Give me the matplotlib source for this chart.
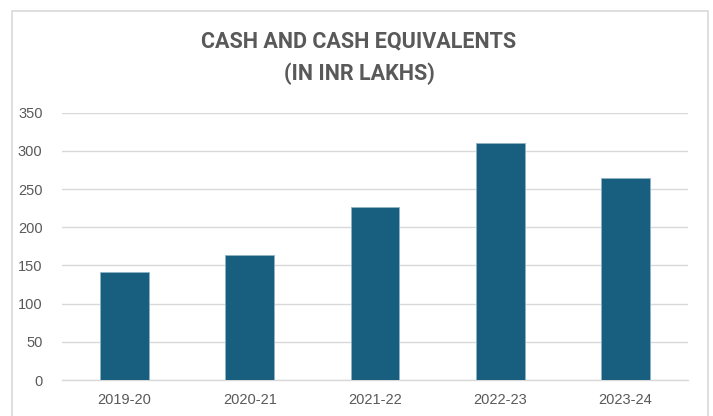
import matplotlib
matplotlib.use("Agg")
import matplotlib.pyplot as plt
from matplotlib.patches import Rectangle

categories = ["2019-20", "2020-21", "2021-22", "2022-23", "2023-24"]
values = [142, 164, 227, 310, 264]
yticks = [0, 50, 100, 150, 200, 250, 300, 350]
title = "CASH AND CASH EQUIVALENTS\n(IN INR LAKHS)"

W, H = 713, 416
fig = plt.figure(figsize=(W / 100, H / 100), dpi=100)
fig.patch.set_facecolor("white")

# outer chart border
fig.patches.append(Rectangle((12 / W, -0.05), (708 - 12) / W, 1.05 - 11 / H,
                             transform=fig.transFigure, fill=False,
                             edgecolor="#d9d9d9", linewidth=1.2))

ax = fig.add_axes([62 / W, 1 - 380 / H, (688 - 62) / W, (380 - 112.7) / H])
x = range(len(categories))
ax.bar(x, values, width=0.39, color="#175E7F", edgecolor="#8fb3c6", linewidth=0.6, zorder=3)
ax.set_xlim(-0.5, len(categories) - 0.5)
ax.set_ylim(0, 350)
ax.set_yticks(yticks)
ax.set_xticks(list(x))
ax.set_xticklabels(categories)
ax.grid(axis="y", color="#d9d9d9", linewidth=1.0, zorder=0)
for s in ["top", "right", "left"]:
    ax.spines[s].set_visible(False)
ax.spines["bottom"].set_color("#d9d9d9")
ax.spines["bottom"].set_linewidth(1.0)
ax.tick_params(axis="both", length=0, colors="#595959", labelsize=10.5)
ax.tick_params(axis="y", pad=14)
ax.tick_params(axis="x", pad=9)
for lab in ax.get_xticklabels() + ax.get_yticklabels():
    lab.set_family(["Liberation Sans"])

fig.text(359 / W, 1 - 58 / H, title, ha="center", va="center", fontsize=15.5,
         fontweight="bold", color="#595959", family=["Roboto"],
         linespacing=1.6)

fig.savefig("out.png", dpi=100)
